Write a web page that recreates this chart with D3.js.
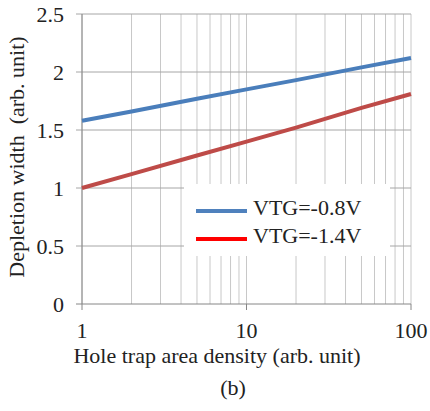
<!DOCTYPE html>
<html>
<head>
<meta charset="utf-8">
<script src="https://cdn.jsdelivr.net/npm/d3@7"></script>
<style>
  body { margin: 0; background: #fff; }
</style>
</head>
<body>
<div id="chart"></div>
<script>
// data
var density = [1, 2, 5, 10, 20, 50, 100]
var vtg08 = [1.58, 1.66, 1.77, 1.85, 1.93, 2.04, 2.12]
var vtg14 = [1.00, 1.12, 1.28, 1.40, 1.52, 1.69, 1.81]
var seriesNames = ['VTG=-0.8V', 'VTG=-1.4V']
var yTicks = [0, 0.5, 1, 1.5, 2, 2.5]
var xTicks = [1, 10, 100]

var width = 430
var height = 411
var margin = { left: 82, right: 19, top: 14, bottom: 107 }

var svg = d3.select('#chart').append('svg')
	.attr('width', width)
	.attr('height', height)

var x = d3.scaleLog()
	.domain([1, 100])
	.range([margin.left, width - margin.right])

var y = d3.scaleLinear()
	.domain([0, 2.5])
	.range([height - margin.bottom, margin.top])

// minor + major vertical gridlines
var xGrid = []
for (let dec = 1; dec < 100; dec *= 10) {
	for (let k = 1; k <= 10; k++) xGrid.push(dec * k)
}
xGrid = Array.from(new Set(xGrid))

svg.append('g')
	.selectAll('line')
	.data(xGrid)
	.enter()
	.append('line')
	.attr('x1', d => x(d))
	.attr('x2', d => x(d))
	.attr('y1', y(2.5))
	.attr('y2', y(0))
	.attr('stroke', '#c8c8c8')
	.attr('stroke-width', 1)

// horizontal gridlines (extend a bit left as tick marks)
svg.append('g')
	.selectAll('line')
	.data(yTicks)
	.enter()
	.append('line')
	.attr('x1', x(1) - 6)
	.attr('x2', x(100))
	.attr('y1', d => y(d))
	.attr('y2', d => y(d))
	.attr('stroke', d => d === 0 ? '#868686' : '#a6a6a6')
	.attr('stroke-width', 1)

// left axis line
svg.append('line')
	.attr('x1', x(1)).attr('x2', x(1))
	.attr('y1', y(2.5)).attr('y2', y(0))
	.attr('stroke', '#868686')

// x major ticks
svg.append('g')
	.selectAll('line')
	.data(xTicks)
	.enter()
	.append('line')
	.attr('x1', d => x(d))
	.attr('x2', d => x(d))
	.attr('y1', y(0))
	.attr('y2', y(0) + 6)
	.attr('stroke', '#868686')

// legend background
var legend = svg.append('g')
	.attr('transform', 'translate(184,184)')

legend.append('rect')
	.attr('width', 206)
	.attr('height', 72)
	.attr('fill', '#fff')

// lines
var rows = density.map((d, i) => ({ x: d, a: vtg08[i], b: vtg14[i] }))
var colors = ['#4a7ebb', '#be4b48']
var legendColors = ['#4f81bd', '#ff0000']

var line = key => d3.line()
	.x(d => x(d.x))
	.y(d => y(d[key]))

svg.append('path')
	.datum(rows)
	.attr('d', line('a'))
	.attr('fill', 'none')
	.attr('stroke', colors[0])
	.attr('stroke-width', 4)

svg.append('path')
	.datum(rows)
	.attr('d', line('b'))
	.attr('fill', 'none')
	.attr('stroke', colors[1])
	.attr('stroke-width', 4)

legend.selectAll('line.key')
	.data(seriesNames)
	.enter()
	.append('line')
	.attr('class', 'key')
	.attr('x1', 12)
	.attr('x2', 63)
	.attr('y1', (d, i) => 27 + i * 28)
	.attr('y2', (d, i) => 27 + i * 28)
	.attr('stroke', (d, i) => legendColors[i])
	.attr('stroke-width', 4)

// all texts in Times-like serif
function label(sel) {
	return sel.attr('font-family', 'Liberation Serif')
		.attr('font-size', 22)
		.attr('fill', '#222')
}

legend.selectAll('text')
	.data(seriesNames)
	.enter()
	.append('text')
	.attr('x', 69)
	.attr('y', (d, i) => 31 + i * 28)
	.call(label)
	.text(d => d)

// tick labels
svg.append('g')
	.selectAll('text')
	.data(yTicks)
	.enter()
	.append('text')
	.attr('x', 64)
	.attr('y', d => y(d) + 8)
	.attr('text-anchor', 'end')
	.call(label)
	.text(d => d)

svg.append('g')
	.selectAll('text')
	.data(xTicks)
	.enter()
	.append('text')
	.attr('x', d => x(d))
	.attr('y', 338)
	.attr('text-anchor', 'middle')
	.call(label)
	.text(d => d)

// axis titles
svg.append('text')
	.attr('x', 217)
	.attr('y', 363)
	.attr('text-anchor', 'middle')
	.call(label)
	.text('Hole trap area density (arb. unit)')

svg.append('text')
	.attr('transform', 'translate(24,157) rotate(-90)')
	.attr('text-anchor', 'middle')
	.style('white-space', 'pre')
	.call(label)
	.text('Depletion width  (arb. unit)')

svg.append('text')
	.attr('x', 233)
	.attr('y', 395)
	.attr('text-anchor', 'middle')
	.call(label)
	.text('(b)')
</script>
</body>
</html>
